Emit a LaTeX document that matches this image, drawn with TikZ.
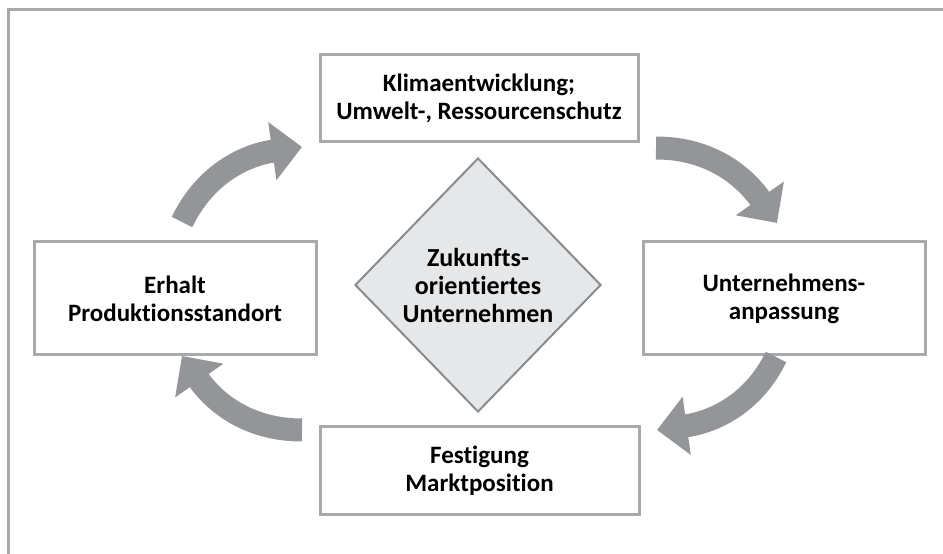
\documentclass[tikz,border=0pt]{standalone}
\usepackage{fontspec}
\setmainfont{Carlito}[Ligatures={NoCommon}]
\usetikzlibrary{shapes.geometric,arrows.meta}

\definecolor{framegray}{HTML}{A7A9AC}
\definecolor{arrowgray}{HTML}{939598}
\definecolor{diafill}{HTML}{E6E7E8}
\definecolor{dialine}{HTML}{8A8B8D}

\begin{document}
\begin{tikzpicture}[x=1pt,y=1pt,
    box/.style={draw=framegray,line width=3pt,fill=white,align=center,
      font=\fontsize{25}{28}\selectfont\bfseries},
    bigarrow/.style={draw=arrowgray,line width=23pt,
      -{Triangle[length=30pt,width=57pt]}}]

  \useasboundingbox (0,0) rectangle (943,554);

  % frame
  \draw[framegray,line width=3pt] (8,0) -- (8,544) -- (943,544);

  % boxes
  \node[box,minimum width=318pt,minimum height=87pt] (klima) at (479,455.5)
    {Klimaentwicklung;\\Umwelt-, Ressourcenschutz};
  \node[box,minimum width=282pt,minimum height=113pt] (anpassung) at (784,255.5)
    {Unternehmens-\\anpassung};
  \node[box,minimum width=319pt,minimum height=88pt] (festigung) at (479.5,83)
    {Festigung\\Marktposition};
  \node[box,minimum width=282pt,minimum height=113pt] (erhalt) at (175,255.5)
    {Erhalt\\Produktionsstandort};

  % centre
  \node[diamond,draw=dialine,line width=2pt,fill=diafill,inner sep=0pt,
    minimum width=246pt,minimum height=254pt,align=center,
    font=\fontsize{26}{28}\selectfont\bfseries] (zentrum) at (478,269)
    {Zukunfts-\\orientiertes\\Unternehmen};

  % arrows
  \coordinate (a1s) at (182,332);
  \coordinate (a1e) at (302,407);
  \coordinate (a2s) at (656,406);
  \coordinate (a2e) at (777,331);
  \coordinate (a3s) at (776,197);
  \coordinate (a3e) at (657,124);
  \coordinate (a4s) at (302,124);
  \coordinate (a4e) at (182,198);

  \draw[bigarrow] (a1s) to[out=64,in=188] (a1e);
  \draw[bigarrow] (a2s) to[out=0,in=125] (a2e);
  \draw[bigarrow] (a3s) to[out=244,in=8] (a3e);
  \draw[bigarrow] (a4s) to[out=180,in=305] (a4e);

\end{tikzpicture}
\end{document}
